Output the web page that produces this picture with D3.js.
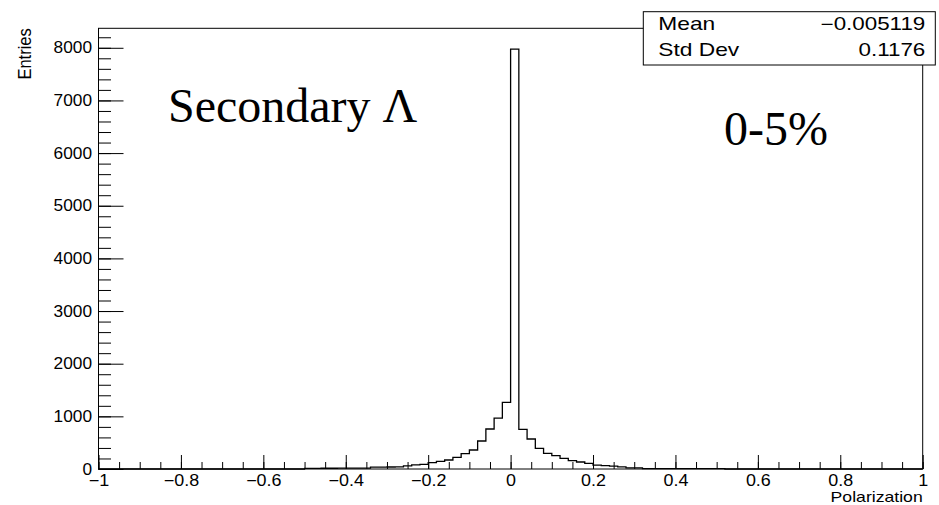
<!DOCTYPE html>
<html>
<head>
<meta charset="utf-8">
<script src="https://cdn.jsdelivr.net/npm/d3@7/dist/d3.min.js"></script>
<style>
  html, body { margin: 0; padding: 0; background: #fff; }
  svg { display: block; }
  .tick text { font-family: "Liberation Sans", Arial, sans-serif; font-size: 16.3px; fill: #000; }
  .tick line { stroke: #000; stroke-width: 1; }
  .sans { font-family: "Liberation Sans", Arial, sans-serif; }
  .serif { font-family: "Liberation Serif", "Times New Roman", serif; }
</style>
</head>
<body>
<div id="chart"></div>
<script>
// histogram: 100 bins, width 0.02, from -1 to 1
const binLow = -1, binWidth = 0.02;
const counts = [
  // -1.00 .. -0.52
  0, 0, 0, 0, 0, 0, 0, 0, 0, 0, 0, 0, 0, 0, 0, 0, 0, 0, 0, 0, 0, 0, 0, 0, 0,
  // -0.50 .. -0.36
  12, 12, 14, 14, 15, 16, 17, 18,
  // -0.34 .. -0.02
  35, 35, 38, 40, 60, 78, 88, 120, 146, 171, 222, 291, 361, 532, 760, 968, 1267,
  // 0.00 .. 0.30
  7975, 754, 570, 393, 298, 253, 203, 158, 133, 108, 75, 65, 55, 40, 22, 20,
  // 0.32 .. 0.50
  8, 8, 8, 7, 7, 8, 8, 7, 6, 6,
  // 0.52 .. 0.98
  0, 0, 0, 0, 0, 0, 0, 0, 0, 0, 0, 0, 0, 0, 0, 0, 0, 0, 0, 0, 0, 0, 0, 0
];
const xMajor = [-1, -0.8, -0.6, -0.4, -0.2, 0, 0.2, 0.4, 0.6, 0.8, 1];
const xMinor = d3.range(-1, 1.0001, 0.05).map(v => +v.toFixed(2));
const yMajor = [0, 1000, 2000, 3000, 4000, 5000, 6000, 7000, 8000];
const yMinor = d3.range(0, 8400, 200);
const statRows = [["Mean", "\u22120.005119"], ["Std Dev", "0.1176"]];

const W = 939, H = 505;
const M = { t: 28.3, r: 16.3, b: 36, l: 98.5 };
const w = W - M.l - M.r, h = H - M.t - M.b;

const svg = d3.select("#chart").append("svg")
  .attr("width", W).attr("height", H);

const g = svg.append("g").attr("transform", `translate(${M.l},${M.t})`);

const x = d3.scaleLinear().domain([-1, 1]).range([0, w]);
const y = d3.scaleLinear().domain([0, 8370]).range([h, 0]);

const fmtX = v => (v < 0 ? "\u2212" : "") + Math.abs(v).toString();

// the picture's glyphs are a bit wider than the installed fonts
function widen(sel, sx) {
  sel.selectAll(".tick text").each(function () {
    const t = d3.select(this);
    const tx = +t.attr("x") || 0, ty = +t.attr("y") || 0;
    t.attr("x", 0).attr("y", 0)
      .attr("transform", `translate(${tx},${ty}) scale(${sx},1)`);
  });
}

// axes (ticks inside the frame, ROOT style)
g.append("g").attr("transform", `translate(0,${h})`)
  .call(d3.axisBottom(x).tickValues(xMinor).tickSize(-7).tickFormat(""))
  .call(a => a.select(".domain").remove());
g.append("g").attr("transform", `translate(0,${h})`)
  .call(d3.axisBottom(x).tickValues(xMajor).tickSize(-14).tickPadding(5.5).tickFormat(fmtX))
  .call(a => a.select(".domain").remove())
  .call(a => widen(a, 1.1));

g.append("g")
  .call(d3.axisLeft(y).tickValues(yMinor).tickSize(-12.5).tickFormat(""))
  .call(a => a.select(".domain").remove());
g.append("g")
  .call(d3.axisLeft(y).tickValues(yMajor).tickSize(-25).tickPadding(6.5).tickFormat(d3.format("d")))
  .call(a => a.select(".domain").remove())
  .call(a => widen(a, 1.06));

// histogram outline
const pts = [[binLow, 0]];
counts.forEach((c, i) => {
  const lo = binLow + i * binWidth;
  pts.push([lo, c], [lo + binWidth, c]);
});
pts.push([1, 0]);

g.append("path")
  .datum(pts)
  .attr("fill", "none")
  .attr("stroke", "#000")
  .attr("stroke-width", 1.3)
  .attr("d", d3.line().x(d => x(d[0])).y(d => y(d[1])));

// frame
g.append("rect")
  .attr("x", 0).attr("y", 0).attr("width", w).attr("height", h)
  .attr("fill", "none").attr("stroke", "#000").attr("stroke-width", 1);

// axis titles
svg.append("text")
  .attr("class", "sans")
  .attr("transform", `translate(30.7,${M.t}) rotate(-90) scale(1,1.12)`)
  .attr("text-anchor", "end")
  .style("font-size", "16.5px")
  .text("Entries");

svg.append("text")
  .attr("class", "sans")
  .attr("transform", `translate(${M.l + w},502.3) scale(1.26,1)`)
  .attr("text-anchor", "end")
  .style("font-size", "14px")
  .text("Polarization");

// labels inside
svg.append("text")
  .attr("class", "serif")
  .attr("x", 168).attr("y", 122)
  .style("font-size", "48px")
  .text("Secondary \u039B");

svg.append("text")
  .attr("class", "serif")
  .attr("x", 724).attr("y", 145)
  .style("font-size", "48px")
  .text("0-5%");

// stat box
const box = svg.append("g").attr("transform", "translate(643.3,11.7)");
box.append("rect")
  .attr("width", 292).attr("height", 53.3)
  .attr("fill", "#fff").attr("stroke", "#000").attr("stroke-width", 1);
statRows.forEach((r, i) => {
  const by = 17.8 + i * 26.8;
  box.append("text")
    .attr("class", "sans")
    .attr("transform", `translate(15,${by}) scale(1.3,1)`)
    .style("font-size", "17.5px")
    .text(r[0]);
  box.append("text")
    .attr("class", "sans")
    .attr("transform", `translate(282,${by}) scale(1.28,1)`)
    .attr("text-anchor", "end")
    .style("font-size", "17.5px")
    .text(r[1]);
});
</script>
</body>
</html>
